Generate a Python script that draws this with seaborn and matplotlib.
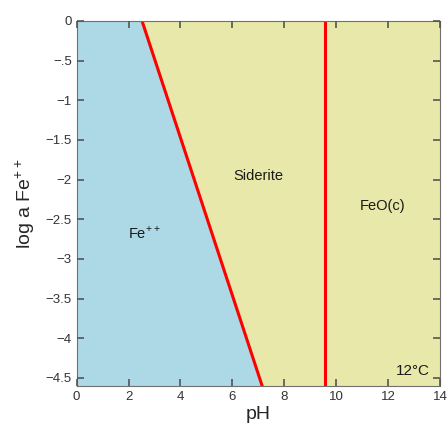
import numpy as np
import pandas as pd
import seaborn as sns
from matplotlib import pyplot as plt
from matplotlib.ticker import FuncFormatter

# Fe++ / siderite boundary (pH, log a Fe++)
FE_SID_PH = [2.52, 7.15]
FE_SID_LOGA = [0.0, -4.6]
# siderite / FeO(c) boundary
SID_FEO_PH = [9.57, 9.57]
SID_FEO_LOGA = [0.0, -4.6]

FIELD_NAMES = ['Fe$^{++}$', 'Siderite', 'FeO(c)']
FIELD_PH = [2.6, 7.0, 11.8]
FIELD_LOGA = [-2.68, -1.95, -2.33]

X_TICKS = [0, 2, 4, 6, 8, 10, 12, 14]
Y_TICKS = [0, -0.5, -1, -1.5, -2, -2.5, -3, -3.5, -4, -4.5]

XLIM = (0, 14)
YLIM = (-4.6, 0)

BLUE = '#add8e6'
YELLOW = '#e8e8aa'
RED = '#ff0000'


def fmtTick(v, pos):
    s = ('%g' % v)
    if s.startswith('-0.'):
        s = '-' + s[2:]
    return s.replace('-', '\u2212')


sns.set_style('ticks')
plt.rcParams['font.family'] = ['Liberation Sans', 'DejaVu Sans']
plt.rcParams['mathtext.fontset'] = 'custom'
plt.rcParams['mathtext.rm'] = 'Liberation Sans'

fig = plt.figure(figsize=(4.48, 4.25), dpi=100)
ax = fig.add_axes([0.171, 0.092, 0.811, 0.859])

# fields
ax.fill_between([XLIM[0], XLIM[1]], YLIM[0], YLIM[1], color=YELLOW, lw=0, zorder=0)
ax.fill_betweenx(FE_SID_LOGA, XLIM[0], FE_SID_PH, color=BLUE, lw=0, zorder=0.5)

boundaries = pd.DataFrame({
    'pH': FE_SID_PH + SID_FEO_PH,
    'loga': FE_SID_LOGA + SID_FEO_LOGA,
    'line': ['a', 'a', 'b', 'b'],
})
sns.lineplot(data=boundaries, x='pH', y='loga', units='line', estimator=None,
             sort=False, color=RED, lw=2.2, ax=ax)

for name, x, y in zip(FIELD_NAMES, FIELD_PH, FIELD_LOGA):
    ax.text(x, y, name, fontsize=10.5, ha='center', va='center', color='#1a1a1a')
ax.text(12.95, -4.41, '12\u00b0C', fontsize=11, ha='center', va='center', color='#1a1a1a')

ax.set_xticks(X_TICKS)
ax.set_yticks(Y_TICKS)
ax.yaxis.set_major_formatter(FuncFormatter(fmtTick))
ax.set_xlim(*XLIM)
ax.set_ylim(*YLIM)

ax.set_xlabel('pH', fontsize=14, labelpad=2)
ax.set_ylabel('log a Fe$^{++}$', fontsize=14, labelpad=6)

ax.tick_params(direction='in', length=5, width=1.2, colors='#555555',
               top=True, right=True)
ax.tick_params(labelcolor='#333333', labelsize=9.5)
ax.set_axisbelow(False)
for sp in ax.spines.values():
    sp.set_edgecolor('#707070')
    sp.set_linewidth(0.8)

plt.savefig('out.png', dpi=100)
